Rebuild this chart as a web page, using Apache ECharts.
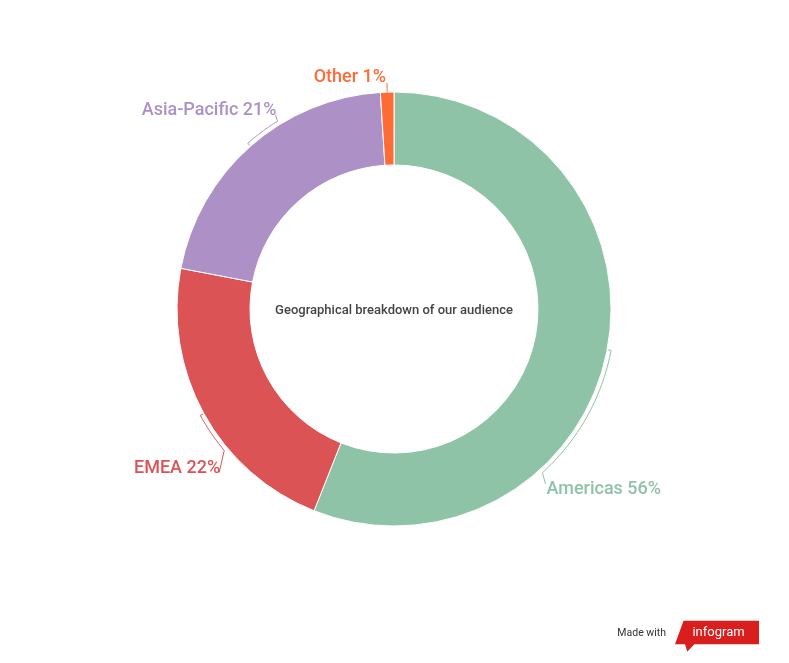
<!DOCTYPE html>
<html>
<head>
<meta charset="utf-8">
<script src="https://cdn.jsdelivr.net/npm/echarts@6/dist/echarts.min.js"></script>
<style>
html,body{margin:0;padding:0;background:#fff;}
#chart{width:789px;height:663px;}
</style>
</head>
<body>
<div id="chart"></div>
<script>
const categories = ['Americas', 'EMEA', 'Asia-Pacific', 'Other'];
const values = [56, 22, 21, 1];
const colors = ['#8fc3a7', '#dc5356', '#ad91c6', '#ff6b35'];
const centerTitle = 'Geographical breakdown of our audience';

// leader-line styling per slice (style only): arc span in degrees, tail offset, label offset, align
const leaderStyle = [
  { span: 37,  tail: [3, 11],  lab: [1, 6],  align: 'left'  },
  { span: -11, tail: [-5, 22], lab: [1, -4], align: 'right' },
  { span: 9.6, tail: [-2, -6], lab: [1, -5], align: 'right' },
  { span: 0,   tail: [0, -5],  lab: [-1, -6], align: 'right' }
];

const CX = 394, CY = 309, R_IN = 144, R_OUT = 217, R_ARC = 221;
const total = values.reduce((a, b) => a + b, 0);
function midAngle(i) {
  let before = 0;
  for (let k = 0; k < i; k++) before += values[k];
  return (before + values[i] / 2) / total * 360;
}
function pt(deg, r) {
  const a = deg * Math.PI / 180;
  return [CX + r * Math.sin(a), CY - r * Math.cos(a)];
}

const chart = echarts.init(document.getElementById('chart'));
chart.setOption({
  backgroundColor: '#ffffff',
  animation: false,
  graphic: [
    { type: 'text', style: { text: centerTitle, x: CX, y: CY + 1.5, textAlign: 'center', textVerticalAlign: 'middle', fill: '#444', font: '500 13px Roboto' } },
    { type: 'text', style: { text: 'Made with', x: 666, y: 633, textAlign: 'right', textVerticalAlign: 'middle', fill: '#333', font: '10.5px Roboto' } },
    { type: 'polygon', shape: { points: [[683.5, 620.7], [759, 620.7], [759, 644.3], [694.3, 644.3], [687.3, 651.7], [685, 644.3], [675, 644.3]] }, style: { fill: '#d91e1e' } },
    { type: 'text', style: { text: 'infogram', x: 718.5, y: 632.5, textAlign: 'center', textVerticalAlign: 'middle', fill: '#ffffff', font: '13px Roboto' } }
  ],
  series: [{
    type: 'pie',
    center: [CX, CY],
    radius: [R_IN, R_OUT],
    startAngle: 90,
    clockwise: true,
    silent: true,
    emphasis: { disabled: true },
    itemStyle: { borderColor: '#ffffff', borderWidth: 1 },
    data: categories.map((c, i) => ({
      name: c,
      value: values[i],
      itemStyle: { color: colors[i] },
      label: { color: colors[i] },
      labelLine: { lineStyle: { color: colors[i] } }
    })),
    label: {
      show: true,
      position: 'outside',
      formatter: p => p.name + ' ' + p.value + '%',
      fontFamily: 'Roboto',
      fontWeight: 500,
      fontSize: 18
    },
    labelLine: { show: true, lineStyle: { width: 1 }, smooth: false },
    labelLayout: function (params) {
      const i = params.dataIndex;
      const s = leaderStyle[i];
      const m = midAngle(i);
      const pts = [pt(m, i === 3 ? R_OUT : 218)];
      const steps = 24;
      for (let k = 0; k <= steps; k++) pts.push(pt(m + s.span * k / steps, R_ARC));
      const end = pts[pts.length - 1];
      const fin = [end[0] + s.tail[0], end[1] + s.tail[1]];
      pts.push(fin);
      return {
        x: fin[0] + s.lab[0],
        y: fin[1] + s.lab[1],
        align: s.align,
        verticalAlign: 'middle',
        labelLinePoints: pts
      };
    }
  }]
});
</script>
</body>
</html>
